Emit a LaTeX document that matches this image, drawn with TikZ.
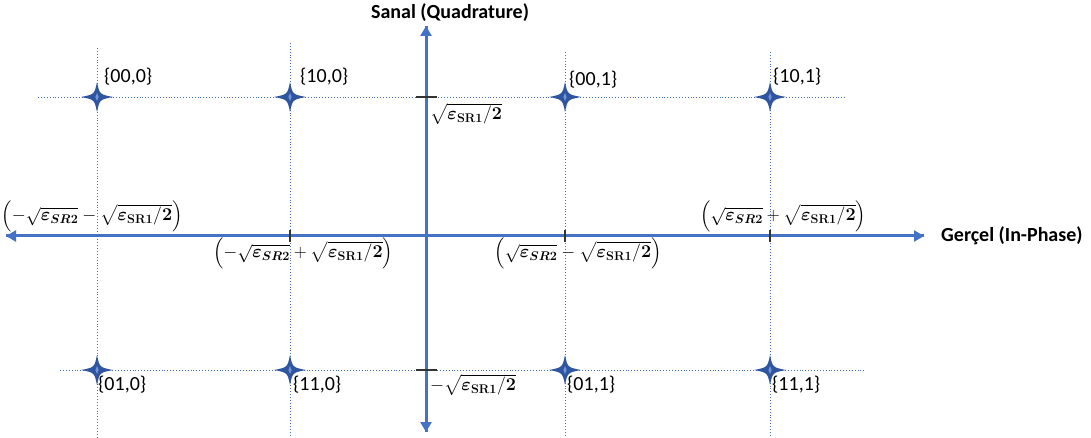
\RequirePackage{fix-cm}
\documentclass[tikz,border=0pt]{standalone}
\usepackage{amsmath}
\usepackage{bm}
\usepackage[no-math]{fontspec}
\setmainfont{Carlito}
\usetikzlibrary{arrows.meta}

\definecolor{axisblue}{RGB}{68,114,196}
\definecolor{starblue}{RGB}{47,85,160}

\tikzset{
  axis/.style={line width=3pt, axisblue, -{Triangle[length=10pt,width=11pt]}},
  grid line/.style={axisblue, line width=0.9pt, dotted},
  tick/.style={line width=1.6pt, black!80},
  bits/.style={font=\fontsize{20}{24}\selectfont, inner sep=1pt},
  val/.style={font=\fontsize{18}{22}\selectfont, inner sep=1pt},
  title/.style={font=\fontsize{20}{24}\selectfont\bfseries, inner sep=1pt},
  spark/.pic={
    \fill[starblue] (0,-15) .. controls (2.6,-2.6) .. (16,0)
      .. controls (2.6,2.6) .. (0,15) .. controls (-2.6,2.6) .. (-16,0)
      .. controls (-2.6,-2.6) .. (0,-15) -- cycle;
    \fill[axisblue!75] (0,-4) -- (1.6,0) -- (0,4) -- (-1.6,0) -- cycle;
  }
}
\newcommand{\esr}[1]{\boldsymbol{\varepsilon}_{\boldsymbol{SR#1}}}
\newcommand{\eup}{\boldsymbol{\varepsilon}_{\mathbf{SR1}}\mathbf{/2}}

\begin{document}
\begin{tikzpicture}[x=1pt, y=-1pt]
  \useasboundingbox (0,0) rectangle (1091,438);

  % Constellation points
  \coordinate (p000) at (97,97);   \coordinate (p100) at (290,97);
  \coordinate (p001) at (565,97);  \coordinate (p101) at (770,97);
  \coordinate (p010) at (97,370);  \coordinate (p110) at (290,370);
  \coordinate (p011) at (565,370); \coordinate (p111) at (770,370);

  % Dotted guides
  \draw[grid line] (38,97) coordinate (gt1) -- (845,97) coordinate (gt2);
  \draw[grid line] (60,370) coordinate (gb1) -- (864,370) coordinate (gb2);
  \draw[grid line] (97,48) coordinate (g1) -- (97,437);
  \draw[grid line] (290,43) coordinate (g2) -- (290,437);
  \draw[grid line] (565,52) coordinate (g3) -- (565,437);
  \draw[grid line] (770,52) coordinate (g4) -- (770,437);

  % Axes
  \coordinate (xl) at (6,236);  \coordinate (xr) at (924,236);
  \coordinate (yt) at (426,26); \coordinate (yb) at (426,432);
  \draw[axis] (xr) -- (xl);
  \draw[axis] (xl) -- (xr);
  \draw[axis] (yb) -- (yt);
  \draw[axis] (yt) -- (yb);
  \node[title, anchor=west] (re) at (940,236) {Gerçel (In-Phase)};
  \node[title] (im) at (450,13) {Sanal (Quadrature)};

  % Ticks
  \draw[tick] (416,97) -- (437,97);
  \draw[tick] (416,370) -- (437,370);
  \foreach \t in {290,565,770}
    \draw[tick] (\t,230) -- (\t,242);

  % Stars
  \foreach \p in {p000,p100,p001,p101,p010,p110,p011,p111}
    \pic at (\p) {spark};

  % Bit labels
  \node[bits, anchor=west] (l000) at (103,77) {\{00,0\}};
  \node[bits, anchor=west] (l100) at (299,77) {\{10,0\}};
  \node[bits, anchor=west] (l001) at (568,80) {\{00,1\}};
  \node[bits, anchor=west] (l101) at (772,77) {\{10,1\}};
  \node[bits, anchor=west] (l010) at (97,385) {\{01,0\}};
  \node[bits, anchor=west] (l110) at (292,385) {\{11,0\}};
  \node[bits, anchor=west] (l011) at (566,385) {\{01,1\}};
  \node[bits, anchor=west] (l111) at (771,385) {\{11,1\}};

  % Amplitude labels
  \node[val, anchor=west] (qp) at (429,114) {$\sqrt{\eup}$};
  \node[val, anchor=west] (qm) at (429,385) {$-\sqrt{\eup}$};
  \node[val] (imm) at (92,216) {$\left(-\sqrt{\esr2}-\sqrt{\eup}\right)$};
  \node[val] (imp) at (303,253) {$\left(-\sqrt{\esr2}+\sqrt{\eup}\right)$};
  \node[val] (ipm) at (578,253) {$\left(\sqrt{\esr2}-\sqrt{\eup}\right)$};
  \node[val] (ipp) at (783,216) {$\left(\sqrt{\esr2}+\sqrt{\eup}\right)$};
\end{tikzpicture}
\end{document}
